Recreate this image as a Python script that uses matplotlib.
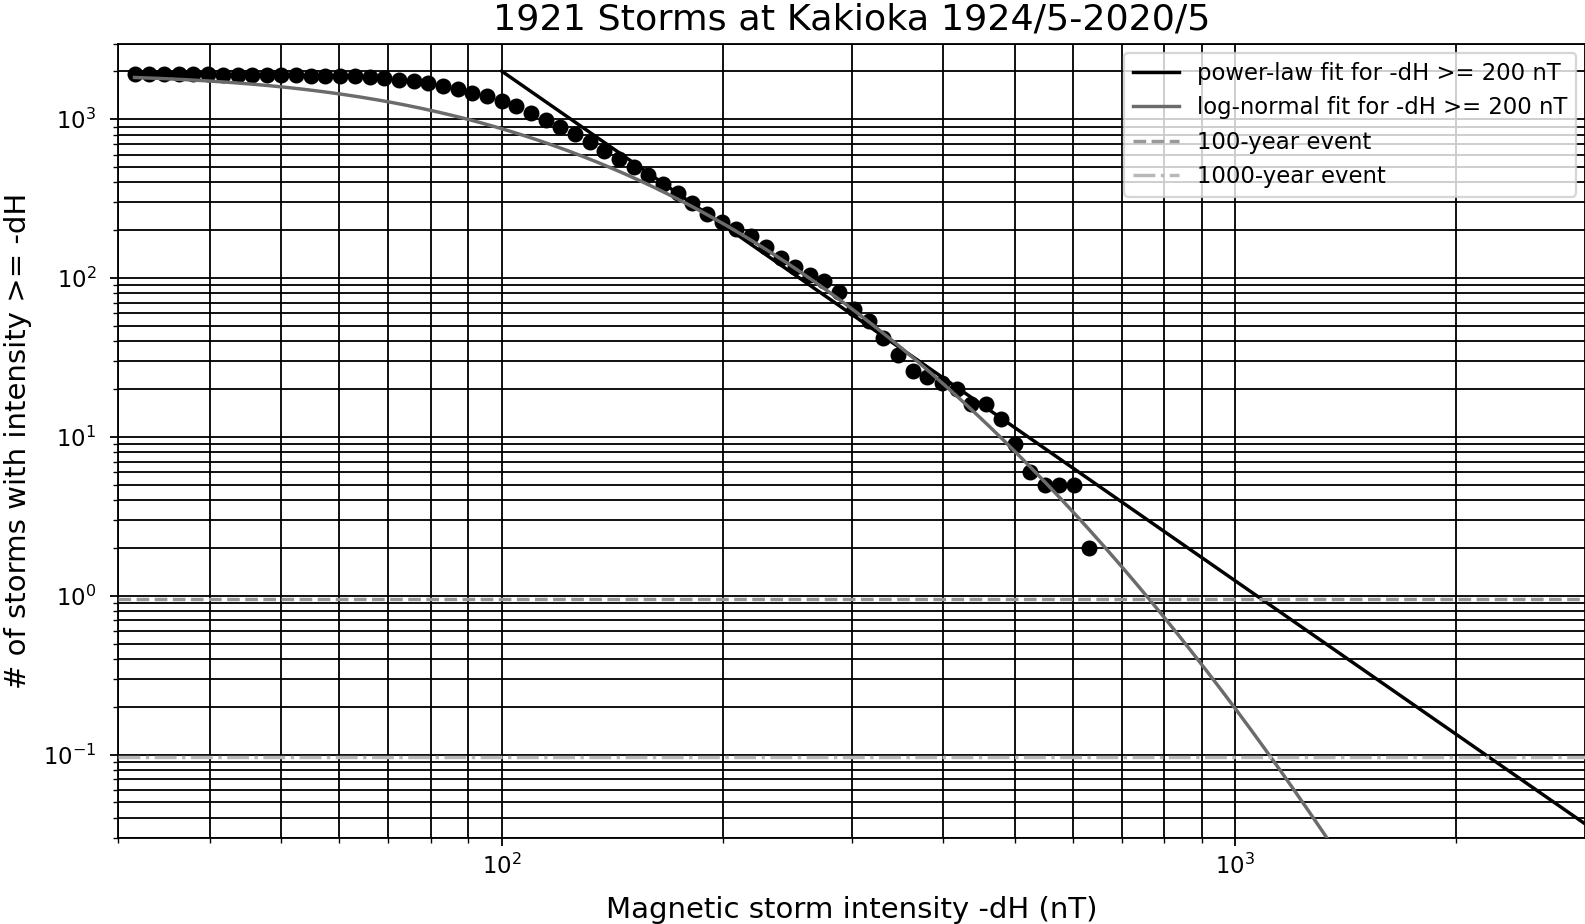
import math
import numpy as np
import matplotlib
matplotlib.use("Agg")
import matplotlib.pyplot as plt

# ---- data ----
thresholds = [31.6, 33.1, 34.7, 36.3, 38.0, 39.8, 41.7, 43.7, 45.7, 47.9,
              50.1, 52.5, 55.0, 57.5, 60.3, 63.1, 66.1, 69.2, 72.4, 75.9,
              79.4, 83.2, 87.1, 91.2, 95.5, 100.0, 104.7, 109.6, 114.8, 120.2,
              125.9, 131.8, 138.0, 144.5, 151.4, 158.5, 166.0, 173.8, 182.0, 190.5,
              199.5, 208.9, 218.8, 229.1, 239.9, 251.2, 263.0, 275.4, 288.4, 302.0,
              316.2, 331.1, 346.7, 363.1, 380.2, 398.1, 416.9, 436.5, 457.1, 478.6,
              501.2, 524.8, 549.5, 575.4, 602.6, 631.0]
counts = [1921, 1920, 1919, 1918, 1916, 1914, 1911, 1908, 1905, 1901,
          1897, 1892, 1886, 1880, 1872, 1862, 1848, 1825, 1778, 1732,
          1687, 1612, 1548, 1470, 1401, 1297, 1214, 1102, 991, 892,
          806, 724, 633, 563, 499, 447, 392, 345, 299, 253,
          224, 203, 184, 158, 133, 118, 104, 96, 82, 64,
          54, 42, 33, 26, 24, 22, 20, 16, 16, 13,
          9, 6, 5, 5, 5, 2]

n_storms = 1921
# power-law fit: N(>=x) = pl_amp * (x / 100)^(-pl_index)
pl_amp = 2010.0
pl_index = 3.21
pl_range = [100.0, 3000.0]
# log-normal fit (in log10 space)
ln_mu = 1.968
ln_sigma = 0.2777
ln_range = [31.6, 3000.0]
event_100yr = 0.96
event_1000yr = 0.096

title = "1921 Storms at Kakioka 1924/5-2020/5"
xlabel = "Magnetic storm intensity -dH (nT)"
ylabel = "# of storms with intensity >= -dH"
labels = ["power-law fit for -dH >= 200 nT", "log-normal fit for -dH >= 200 nT",
          "100-year event", "1000-year event"]

# ---- figure ----
DPI = 164
fig = plt.figure(figsize=(1586 / DPI, 924 / DPI), dpi=DPI)
ax = fig.add_axes([118 / 1586, 1 - 837.6 / 924, 1 - 118.5 / 1586, (837.6 - 43.5) / 924])

ax.set_xscale("log")
ax.set_yscale("log")
ax.grid(True, which="both", color="k", linewidth=0.8)
ax.set_axisbelow(True)

ax.plot(thresholds, counts, "o", color="k", markersize=6, zorder=3)

xp = np.logspace(np.log10(pl_range[0]), np.log10(pl_range[1]), 200)
yp = pl_amp * (xp / 100.0) ** (-pl_index)
ax.plot(xp, yp, "-", color="k", lw=1.5, label=labels[0], zorder=4)

xl = np.logspace(np.log10(ln_range[0]), np.log10(ln_range[1]), 400)
zl = (np.log10(xl) - ln_mu) / ln_sigma
yl = n_storms * 0.5 * np.array([math.erfc(z / math.sqrt(2)) for z in zl])
ax.plot(xl, yl, "-", color="0.42", lw=1.5, label=labels[1], zorder=4)

ax.axhline(event_100yr, color="0.6", ls="--", lw=1.5, label=labels[2], zorder=4)
ax.axhline(event_1000yr, color="0.72", ls="-.", lw=1.5, label=labels[3], zorder=4)

ax.set_xlim(30, 3000)
ax.set_ylim(0.03, 3000)
ax.tick_params(axis="y", which="both", pad=6)
ax.set_title(title, fontsize=16)
ax.set_xlabel(xlabel, fontsize=12.8, labelpad=7.5)
ax.set_ylabel(ylabel, fontsize=12.8, labelpad=5)
ax.legend(loc="upper right", fontsize=10, borderaxespad=0.4)

fig.savefig("out.png", dpi=DPI)
